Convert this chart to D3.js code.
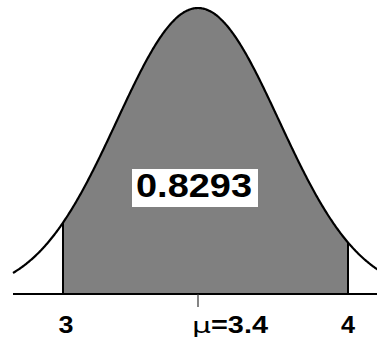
<!DOCTYPE html>
<html>
<head>
<meta charset="utf-8">
<script src="https://cdn.jsdelivr.net/npm/d3@7"></script>
<style>
  html, body { margin: 0; padding: 0; background: #fff; }
  svg { display: block; }
  text { font-family: "Liberation Sans", Arial, sans-serif; font-weight: bold; fill: #000; }
</style>
</head>
<body>
<svg id="chart" width="377" height="338"></svg>
<script>
// Interval bounds, mean and probability of the shaded region
const cutoffs = [3, 4];
const meanValue = 3.4;
const probability = 0.8293;
const tickLabels = ["3", "=3.4", "4"];

const W = 377, H = 338;
const svg = d3.select("#chart");

// Value axis: bounds and mean positioned along the baseline
const x = d3.scaleLinear().domain([cutoffs[0], meanValue, cutoffs[1]]).range([63, 198, 348]);
// Standard-unit scale used to draw the bell shape around the mean
const z = d3.scaleLinear().domain([-1, 1]).range([x(meanValue) - 81, x(meanValue) + 81]);

const pdf = t => Math.exp(-t * t / 2) / Math.sqrt(2 * Math.PI);
const y = d3.scaleLinear().domain([0, pdf(0)]).range([294, 8]);

const zMin = z.invert(13), zMax = z.invert(W + 1);
const zs = d3.range(zMin, zMax, 0.01).concat([zMax]);
const curve = zs.map(t => ({ t, d: pdf(t) }));

const zLo = z.invert(x(cutoffs[0])), zHi = z.invert(x(cutoffs[1]));
const shaded = [{ t: zLo, d: pdf(zLo) }]
  .concat(curve.filter(p => p.t > zLo && p.t < zHi))
  .concat([{ t: zHi, d: pdf(zHi) }]);

// Shaded probability region
svg.append("path")
  .datum(shaded)
  .attr("fill", "#808080")
  .attr("d", d3.area().x(p => z(p.t)).y0(y(0)).y1(p => y(p.d)));

// Bounding verticals
svg.selectAll("line.bound")
  .data([zLo, zHi])
  .join("line")
  .attr("class", "bound")
  .attr("x1", t => z(t)).attr("x2", t => z(t))
  .attr("y1", y(0)).attr("y2", t => y(pdf(t)))
  .attr("stroke", "#000").attr("stroke-width", 2);

// Density curve
svg.append("path")
  .datum(curve)
  .attr("fill", "none")
  .attr("stroke", "#000")
  .attr("stroke-width", 2.2)
  .attr("stroke-linejoin", "round")
  .attr("d", d3.line().x(p => z(p.t)).y(p => y(p.d)).curve(d3.curveBasis));

// Baseline
svg.append("line")
  .attr("x1", 13).attr("x2", W)
  .attr("y1", y(0)).attr("y2", y(0))
  .attr("stroke", "#000").attr("stroke-width", 2);

// Mean tick
svg.append("line")
  .attr("x1", x(meanValue)).attr("x2", x(meanValue))
  .attr("y1", y(0)).attr("y2", 307)
  .attr("stroke", "#333").attr("stroke-width", 1.2);

// Axis labels
const labelY = 333;
svg.append("text")
  .attr("x", x(cutoffs[0]) + 3).attr("y", labelY)
  .attr("text-anchor", "middle")
  .attr("font-size", 23)
  .attr("textLength", 15).attr("lengthAdjust", "spacingAndGlyphs")
  .text(tickLabels[0]);

svg.append("text")
  .attr("x", x(cutoffs[1])).attr("y", labelY)
  .attr("text-anchor", "middle")
  .attr("font-size", 23)
  .attr("textLength", 14).attr("lengthAdjust", "spacingAndGlyphs")
  .text(tickLabels[2]);

const muLabel = svg.append("text")
  .attr("x", x(meanValue) - 6).attr("y", labelY)
  .attr("font-size", 23);
muLabel.append("tspan")
  .style("font-family", "'DejaVu Sans', sans-serif")
  .style("font-weight", "normal")
  .attr("font-size", 22)
  .attr("textLength", 19).attr("lengthAdjust", "spacingAndGlyphs")
  .text("\u03bc");
muLabel.append("tspan")
  .attr("textLength", 57).attr("lengthAdjust", "spacingAndGlyphs")
  .text(tickLabels[1]);

// Probability label in a white box
const boxX = 132, boxY = 169, boxW = 126, boxH = 38;
svg.append("rect")
  .attr("x", boxX).attr("y", boxY).attr("width", boxW).attr("height", boxH)
  .attr("fill", "#fff");
svg.append("text")
  .attr("x", boxX + 4).attr("y", 197)
  .attr("font-size", 33.5)
  .attr("textLength", 116).attr("lengthAdjust", "spacingAndGlyphs")
  .text(probability.toFixed(4));
</script>
</body>
</html>
